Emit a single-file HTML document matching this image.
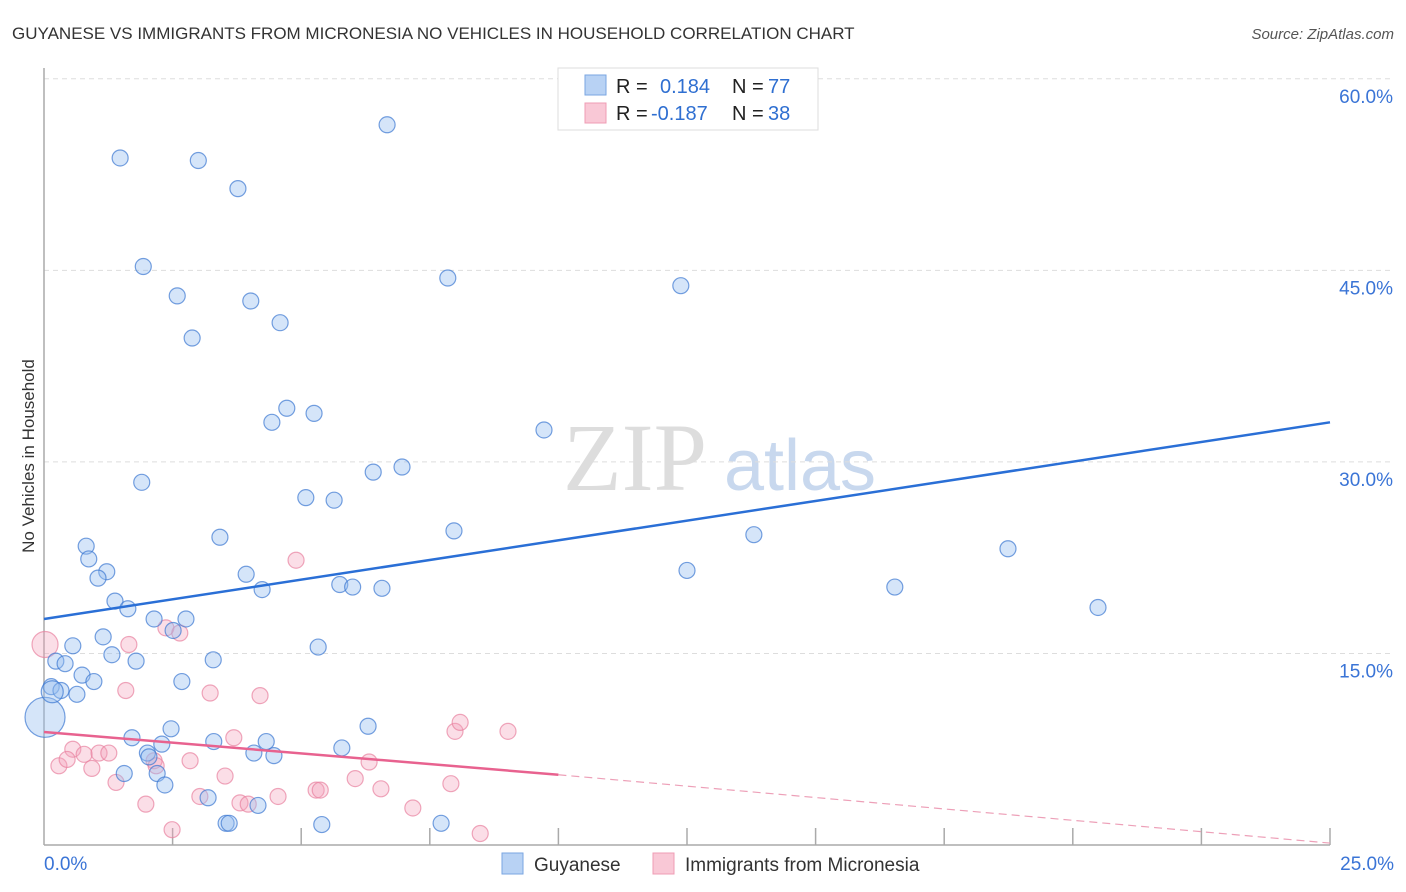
<!DOCTYPE html>
<html><head><meta charset="utf-8"><style>
body{margin:0;background:#fff;font-family:"Liberation Sans",sans-serif;}
svg{display:block}
</style></head><body>
<svg id="chart" width="1406" height="892">
<text x="12" y="39" font-size="17" fill="#333">GUYANESE VS IMMIGRANTS FROM MICRONESIA NO VEHICLES IN HOUSEHOLD CORRELATION CHART</text>
<text x="1394" y="39" font-size="15" font-style="italic" fill="#555" text-anchor="end">Source: ZipAtlas.com</text>
<text transform="translate(34,456) rotate(-90)" font-size="17" fill="#333" text-anchor="middle">No Vehicles in Household</text>
<g><text x="635" y="490" font-size="96" font-family="Liberation Serif,serif" fill="#ddd" text-anchor="middle">ZIP</text><text x="800" y="490" font-size="72" fill="#c8d8ee" text-anchor="middle">atlas</text></g>
<g id="grid"></g><g id="axes"></g><g id="pts"></g><g id="lines"></g>
<g>
<rect x="558" y="68" width="260" height="62" fill="#fff" stroke="#ddd"/>
<rect x="585" y="75" width="21" height="20" fill="#b8d2f4" stroke="#7aa6e2"/>
<rect x="585" y="103" width="21" height="20" fill="#f9c8d6" stroke="#ef9cb4"/>
<text x="616" y="93" font-size="20" fill="#222">R =</text><text x="660" y="93" font-size="20" fill="#2f6fd1">0.184</text>
<text x="732" y="93" font-size="20" fill="#222">N =</text><text x="768" y="93" font-size="20" fill="#2f6fd1">77</text>
<text x="616" y="120" font-size="20" fill="#222">R =</text><text x="651" y="120" font-size="20" fill="#2f6fd1">-0.187</text>
<text x="732" y="120" font-size="20" fill="#222">N =</text><text x="768" y="120" font-size="20" fill="#2f6fd1">38</text>
</g>
<g>
<rect x="502" y="853" width="21" height="21" fill="#b8d2f4" stroke="#7aa6e2"/>
<text x="534" y="871" font-size="19" fill="#333">Guyanese</text>
<rect x="653" y="853" width="21" height="21" fill="#f9c8d6" stroke="#ef9cb4"/>
<text x="685" y="871" font-size="19" fill="#333">Immigrants from Micronesia</text>
</g>
</svg>
<script>
const xTicks=[0,2.5,5,7.5,10,12.5,15,17.5,20,22.5,25];
const yTicks=[15,30,45,60];
const guyX=[1.48,3.0,6.67,3.77,1.93,2.59,4.02,4.59,7.85,12.38,2.88,4.72,4.43,5.25,9.72,1.9,6.4,6.96,5.09,5.64,7.97,3.42,13.8,0.82,0.87,1.22,1.05,3.93,4.24,5.75,6.0,6.57,12.5,16.54,18.74,20.49,1.38,1.63,2.14,2.76,2.51,1.15,0.56,1.32,1.79,3.29,5.33,0.23,0.41,0.74,0.97,2.68,0.14,0.33,0.64,0.02,1.71,2.47,2.29,3.3,4.32,6.3,5.79,2.01,4.08,4.47,2.04,2.2,1.56,2.35,3.19,4.16,3.54,3.6,5.4,7.72,0.16];
const guyY=[53.8,53.6,56.4,51.4,45.3,43.0,42.6,40.9,44.4,43.8,39.7,34.2,33.1,33.8,32.5,28.4,29.2,29.6,27.2,27.0,24.6,24.1,24.3,23.4,22.4,21.4,20.9,21.2,20.0,20.4,20.2,20.1,21.5,20.2,23.2,18.6,19.1,18.5,17.7,17.7,16.8,16.3,15.6,14.9,14.4,14.5,15.5,14.4,14.2,13.3,12.8,12.8,12.4,12.1,11.8,10.0,8.4,9.1,7.9,8.1,8.1,9.3,7.6,7.2,7.2,7.0,6.9,5.6,5.6,4.7,3.7,3.1,1.7,1.7,1.6,1.7,12.0];
const micX=[0.02,4.9,1.65,2.37,2.64,1.59,3.23,4.2,0.56,0.78,1.07,1.26,0.29,0.45,0.93,2.14,2.84,3.69,3.52,1.4,1.98,2.49,3.03,3.81,3.97,4.55,5.29,5.37,6.05,6.32,6.55,7.17,7.91,7.99,8.09,9.02,8.48,2.18];
const micY=[15.7,22.3,15.7,17.0,16.6,12.1,11.9,11.7,7.5,7.1,7.2,7.2,6.2,6.7,6.0,6.6,6.6,8.4,5.4,4.9,3.2,1.2,3.8,3.3,3.2,3.8,4.3,4.3,5.2,6.5,4.4,2.9,4.8,8.9,9.6,8.9,0.9,6.2];
const guySize=Array(77).fill(8);guySize[55]=20;guySize[76]=11;
const micSize=Array(38).fill(8);micSize[0]=13;
const guyLine=[17.7,33.1];const micLine=[8.85,5.5,0.15];
const X=v=>44+v*51.44, Y=v=>845-v*12.77;
const ns="http://www.w3.org/2000/svg";
function mk(p,t,a){const e=document.createElementNS(ns,t);for(const k in a)e.setAttribute(k,a[k]);document.getElementById(p).appendChild(e);return e;}
yTicks.forEach(t=>{
 const l=mk('grid','line',{x1:44,x2:1394,y1:Y(t),y2:Y(t),stroke:'#ddd','stroke-dasharray':'5,4'});
 
 
 const tx=mk('grid','text',{x:1393,y:Y(t)+24,'font-size':19,fill:'#3a74d6','text-anchor':'end'});tx.textContent=t.toFixed(1)+'%';
 
 
});
mk('axes','line',{x1:44,x2:44,y1:68,y2:845,stroke:'#aaa','stroke-width':1.5});
mk('axes','line',{x1:44,x2:1330,y1:845,y2:845,stroke:'#aaa','stroke-width':1.5});
xTicks.forEach((t,i)=>{
 if(i>0){const l=mk('axes','line',{x1:X(t),x2:X(t),y1:845,y2:828,stroke:'#aaa','stroke-width':1.5});
 
 }
});
[[0,'start',44],[25,'end',1394]].forEach(([t,a,x])=>{const tx=mk('axes','text',{x:x,y:870,'font-size':19,fill:'#3a74d6','text-anchor':a});tx.textContent=t.toFixed(1)+'%';
 
 });
micX.forEach((v,i)=>{const c=mk('pts','circle',{cx:X(v),cy:Y(micY[i]),r:micSize[i],fill:'rgba(244,160,186,0.35)',stroke:'rgba(232,130,160,0.7)','stroke-width':1.2});
 
 });
guyX.forEach((v,i)=>{const c=mk('pts','circle',{cx:X(v),cy:Y(guyY[i]),r:guySize[i],fill:'rgba(150,190,240,0.4)',stroke:'rgba(60,120,210,0.7)','stroke-width':1.2});
 
 });
const bl=mk('lines','line',{x1:X(0),y1:Y(guyLine[0]),x2:X(25),y2:Y(guyLine[1]),stroke:'#2a6fd6','stroke-width':2.5});


const pl=mk('lines','line',{x1:X(0),y1:Y(micLine[0]),x2:X(10),y2:Y(micLine[1]),stroke:'#e8628f','stroke-width':2.5});


const pd=mk('lines','line',{x1:X(10),y1:Y(micLine[1]),x2:X(25),y2:Y(micLine[2]),stroke:'#eda0b8','stroke-width':1.2,'stroke-dasharray':'8,5'});


</script>
</body></html>
